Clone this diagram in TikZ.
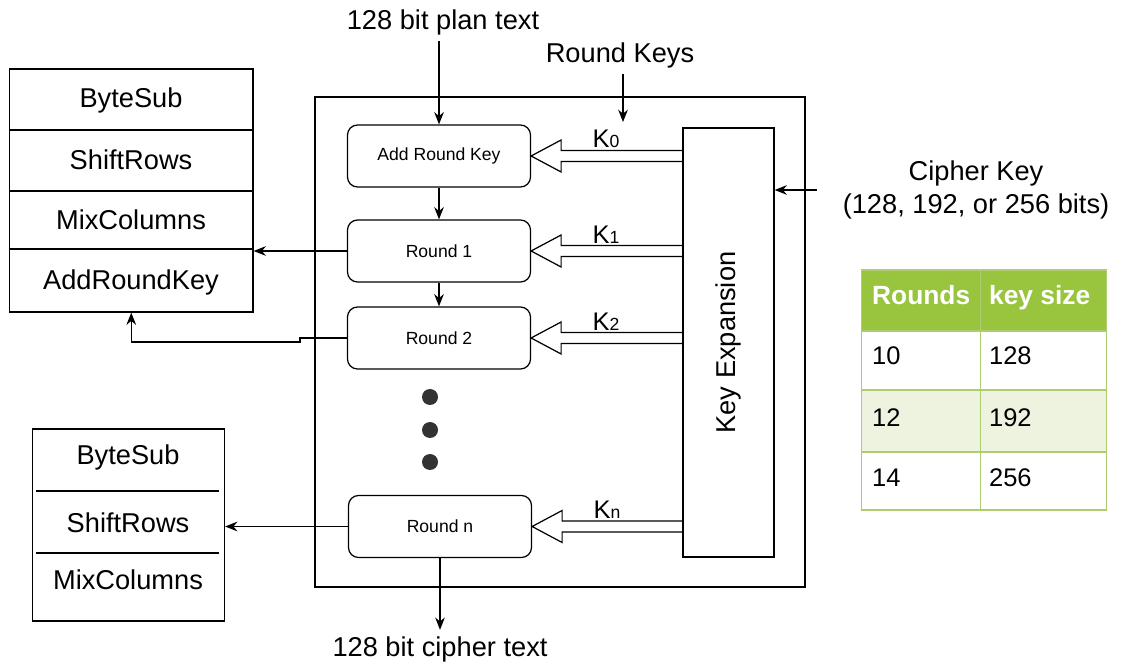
\documentclass[tikz,border=0pt]{standalone}
\usepackage{fontspec}
\setmainfont{Liberation Sans}
\usetikzlibrary{arrows.meta,calc}

\definecolor{hdrgreen}{RGB}{152,196,62}
\definecolor{rowgreen}{RGB}{237,243,223}
\definecolor{gridgreen}{RGB}{172,206,112}

\newcommand\bigfont{\fontsize{15.5}{19}\selectfont}
\newcommand\smallfont{\fontsize{10}{12}\selectfont}

% hollow arrow from the key expansion block into a round, with its key label
\newcommand\keyarrow[2]{%
  \draw ($(ke.west |- #1.east)+(0,0.11)$) -- ($(#1.east)+(0.6,0.11)$) -- ($(#1.east)+(0.6,0.32)$)
    -- (#1.east) -- ($(#1.east)+(0.6,-0.32)$) -- ($(#1.east)+(0.6,-0.11)$) -- ($(ke.west |- #1.east)+(0,-0.11)$);
  \node[above, inner sep=1pt] (k-#1) at ($(#1.east)+(1.5,0.11)$) {{\fontsize{14.5}{15}\selectfont K}{\fontsize{10}{10}\selectfont #2}};
}

\begin{document}
\begin{tikzpicture}[line width=0.7pt,
  flow/.style={-{Stealth[length=7pt,width=5.5pt]}},
  roundbox/.style={draw, rounded corners=0.2cm, minimum width=3.66cm, minimum height=1.24cm, font=\smallfont},
  label/.style={font=\bigfont},
  cell/.style={anchor=mid west, inner sep=0pt, font=\fontsize{14.5}{16}\selectfont}]
\useasboundingbox (0,0) rectangle (22.44,13.28);

% encryption block
\node[draw, minimum width=9.8cm, minimum height=9.8cm] (enc) at (11.2,6.44) {};
\node[roundbox] (arb) at (8.78,10.16) {Add Round Key};
\node[roundbox] (r1) at (8.78,8.26) {Round 1};
\node[roundbox] (r2) at (8.78,6.52) {Round 2};
\node[roundbox] (rn) at (8.80,2.75) {Round n};
\foreach \y in {5.34,4.68,4.04}
  \fill[black!80] (8.60,\y) circle (0.16);

\node[draw, minimum width=1.82cm, minimum height=8.58cm] (ke) at (14.57,6.43) {};
\node[label, rotate=90] (ketext) at (ke) {Key Expansion};

\draw[flow] (arb) -- (r1);
\draw[flow] (r1) -- (r2);

\keyarrow{arb}{0}
\keyarrow{r1}{1}
\keyarrow{r2}{2}
\keyarrow{rn}{n}

% inputs and outputs
\node[label] (ptext) at (8.86,12.84) {128 bit plan text};
\draw[flow] (ptext.south -| arb.north) -- (arb.north);

\node[label] (rktext) at (12.4,12.18) {Round Keys};
\coordinate (rktip) at (12.46,10.84);
\draw[flow] (rktext.south -| rktip) -- (rktip);

\node[label, align=center] (ck) at (19.52,9.48) {Cipher Key\\(128, 192, or 256 bits)};
\draw[flow] ([xshift=-0.39cm]ck.west) -- (ke.east |- ck.west);

\node[label] (ctext) at (8.80,0.30) {128 bit cipher text};
\draw[flow] (rn.south) -- (ctext.north);

% round operations
\node[draw, minimum width=4.87cm, minimum height=4.86cm] (ops1) at (2.625,9.47) {};
\foreach \y in {10.68,9.46,8.30}
  \draw (ops1.west |- 0,\y) -- (ops1.east |- 0,\y);
\node[label] (bs1) at (2.62,11.28) {ByteSub};
\node[label] (sr1) at (2.62,10.08) {ShiftRows};
\node[label] (mc1) at (2.62,8.88) {MixColumns};
\node[label] (ak1) at (2.62,7.64) {AddRoundKey};

\node[draw, minimum width=3.84cm, minimum height=3.84cm] (ops2) at (2.57,2.78) {};
\foreach \y in {3.46,2.22}
  \draw (0.72,\y) -- (4.38,\y);
\node[label] (bs2) at (2.56,4.14) {ByteSub};
\node[label] (sr2) at (2.56,2.82) {ShiftRows};
\node[label] (mc2) at (2.56,1.68) {MixColumns};

\draw[flow] (r1.west) -- (r1.west -| ops1.east);
\draw[flow] (r2.west) -- ++(-0.94,0) -- ++(0,-0.08) -| (ops1.south);
\draw[flow] (rn.west) -- (rn.west -| ops2.east);

% rounds per key size
\fill[hdrgreen] (17.23,6.66) rectangle (22.13,7.88);
\fill[rowgreen] (17.23,4.24) rectangle (22.13,5.48);
\draw[gridgreen] (17.23,3.08) rectangle (22.13,7.88);
\foreach \y in {6.66,5.48,4.24}
  \draw[gridgreen] (17.23,\y) -- (22.13,\y);
\draw[gridgreen] (19.61,3.08) -- (19.61,7.88);
\node[cell, text=white, font=\bfseries\fontsize{15}{16}\selectfont] (hrounds) at (17.43,7.28) {Rounds};
\node[cell, text=white, font=\bfseries\fontsize{15}{16}\selectfont] (hkey) at (19.77,7.28) {key size};
\foreach \r/\k/\y in {10/128/6.08, 12/192/4.85, 14/256/3.65} {
  \node[cell] (n\r) at (17.43,\y) {\r};
  \node[cell] (ks\r) at (19.77,\y) {\k};
}
\end{tikzpicture}
\end{document}
